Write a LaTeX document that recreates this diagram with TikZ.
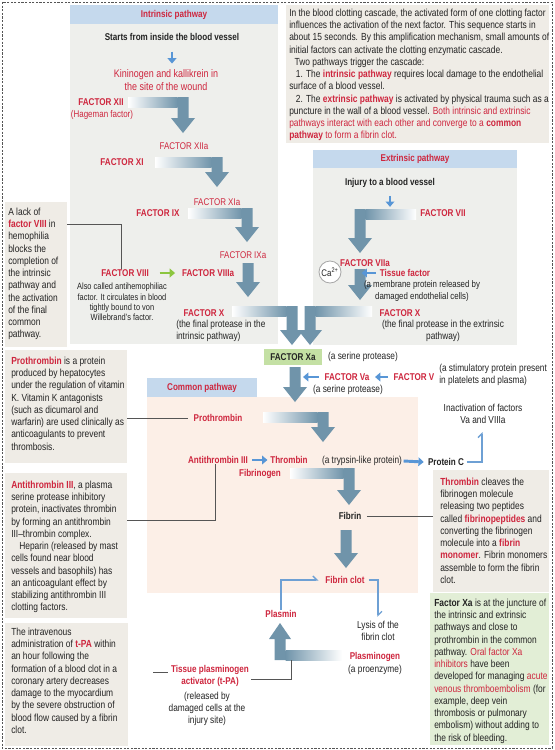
\documentclass[tikz,border=0pt]{standalone}
\usepackage{fontspec}
\setmainfont{Liberation Sans}[FakeStretch=0.82]
\usetikzlibrary{arrows.meta,fit,calc}
\definecolor{cred}{RGB}{206,38,62}
\definecolor{ctext}{RGB}{35,35,35}
\definecolor{hdrblue}{RGB}{197,217,237}
\definecolor{panelgray}{RGB}{238,239,236}
\definecolor{beige}{RGB}{239,236,230}
\definecolor{peach}{RGB}{252,239,231}
\definecolor{xagreen}{RGB}{196,224,164}
\definecolor{boxgreen}{RGB}{226,238,214}
\definecolor{arrowc}{RGB}{112,148,170}
\definecolor{sblue}{RGB}{88,150,214}
\definecolor{lblue}{RGB}{110,160,212}
\definecolor{sgreen}{RGB}{140,198,63}
\definecolor{lgray}{RGB}{85,85,85}
\newcommand\rb[1]{\textcolor{cred}{\textbf{#1}}}
\newcommand\rr[1]{\textcolor{cred}{#1}}
\newcommand\BArrowL[4]{%
  \shade[left color=white, right color=arrowc] (#1,#3-5) rectangle (#2-5.5,#3+5);
  \fill[arrowc] (#2-5.5,#3-5) -- (#2+5.5,#3-5) -- (#2+5.5,#4-15) -- (#2+12,#4-15) -- (#2,#4) -- (#2-12,#4-15) -- (#2-5.5,#4-15) -- cycle;}
\newcommand\BArrowR[4]{%
  \shade[left color=arrowc, right color=white] (#2+5.5,#3-5) rectangle (#1,#3+5);
  \fill[arrowc] (#2-5.5,#3-5) -- (#2+5.5,#3-5) -- (#2+5.5,#4-15) -- (#2+12,#4-15) -- (#2,#4) -- (#2-12,#4-15) -- (#2-5.5,#4-15) -- cycle;}
\newcommand\BArrowUp[4]{%
  \shade[left color=arrowc, right color=white] (#2+5.5,#3-5) rectangle (#1,#3+5);
  \fill[arrowc] (#2-5.5,#3+5) -- (#2+5.5,#3+5) -- (#2+5.5,#4+16) -- (#2+11,#4+16) -- (#2,#4) -- (#2-11,#4+16) -- (#2-5.5,#4+16) -- cycle;}
\newcommand\VArrow[3]{%
  \fill[arrowc] (#1-5.5,#2) -- (#1+5.5,#2) -- (#1+5.5,#3-15) -- (#1+12,#3-15) -- (#1,#3) -- (#1-12,#3-15) -- (#1-5.5,#3-15) -- cycle;}
\begin{document}
\begin{tikzpicture}[x=0.75pt,y=-0.75pt,
  bg/.style={inner sep=0, outer sep=0, draw=none},
  body/.style={font=\fontsize{7.7}{9.2}\selectfont, text=ctext, inner sep=0, align=left, anchor=north west},
  note/.style={font=\fontsize{7.6}{9.2}\selectfont, text=ctext, inner sep=0, align=center},
  small/.style={font=\fontsize{6.8}{7.8}\selectfont, text=ctext, inner sep=0, align=center},
  lab/.style={font=\bfseries\fontsize{7.4}{9}\selectfont, text=cred, inner sep=0, align=center},
  labk/.style={lab, text=ctext},
  labr/.style={font=\fontsize{7.3}{9.2}\selectfont, text=cred, inner sep=0, align=center},
  thin/.style={draw=lgray, line width=0.6pt},
  lbline/.style={draw=lblue, line width=1pt},
  sarrow/.style={draw=sblue, line width=2.2pt, -{Triangle[width=6.5pt,length=4pt]}},
  garrow/.style={draw=sgreen, line width=2.2pt, -{Triangle[width=6.5pt,length=4pt]}}]
\useasboundingbox (0,0) rectangle (554,750);
\fill[white] (0,0) rectangle (554,750);
% panels and boxes
\node[bg, fit={(70,24) (278,344)}, fill=panelgray] (panI) {};
\node[bg, fit={(70,5) (278,24)}, fill=hdrblue] (hdrI) {};
\node[bg, fit={(313,168) (517,345)}, fill=panelgray] (panE) {};
\node[bg, fit={(313,150) (517,168)}, fill=hdrblue] (hdrE) {};
\node[bg, fit={(147,397) (418,593)}, fill=peach] (panC) {};
\node[bg, fit={(147,378) (257,397)}, fill=hdrblue] (hdrC) {};
\node[bg, fit={(286,5) (549,143)}, fill=beige] (introbox) {};
\node[bg, fit={(5,202) (67,347)}, fill=beige] (lackbox) {};
\node[bg, fit={(5,350) (127,463)}, fill=beige] (probox) {};
\node[bg, fit={(5,473) (127,618)}, fill=beige] (antibox) {};
\node[bg, fit={(5,623) (128,746)}, fill=beige] (tpabox) {};
\node[bg, fit={(433,470) (549,592)}, fill=beige] (thrbox) {};
\node[bg, fit={(430,593) (549,745)}, fill=boxgreen] (xabox) {};
\draw[lgray, line width=0.5pt, dash pattern=on 1.6pt off 1.1pt] (2,2) rectangle (552,748);
% headers
\node[lab] (tI) at (hdrI) {Intrinsic pathway};
\node[lab] (tE) at (hdrE) {Extrinsic pathway};
\node[lab] (tC) at (hdrC) {Common pathway};
% big arrows
\BArrowL{128}{183}{102}{133}
\BArrowL{155}{217}{162}{187}
\BArrowL{188}{247}{213}{242}
\VArrow{248}{263}{297}
\BArrowL{232}{292}{311}{345}
\BArrowR{372}{310}{311}{345}
\BArrowR{416}{360}{214}{253}
\VArrow{360}{269}{300}
\VArrow{295}{367}{402}
\BArrowL{263}{323}{417}{442}
\BArrowL{290}{349}{473}{505}
\VArrow{346}{530}{568}
\BArrowUp{342}{280}{655}{623}
% intro text
\node[body] (intro) at (289,8.5) {In the blood clotting cascade, the activated form of one clotting factor\\
influences the activation of the next factor. This sequence starts in\\
about 15 seconds. By this amplification mechanism, small amounts of\\
initial factors can activate the clotting enzymatic cascade.\\
\hspace*{4pt}Two pathways trigger the cascade:\\
\hspace*{5pt}1. The \rb{intrinsic pathway} requires local damage to the endothelial\\
surface of a blood vessel.\\
\hspace*{5pt}2. The \rb{extrinsic pathway} is activated by physical trauma such as a\\
puncture in the wall of a blood vessel. \rr{Both intrinsic and extrinsic}\\
\rr{pathways interact with each other and converge to a} \rb{common}\\
\rb{pathway} \rr{to form a fibrin clot.}};
% side texts
\node[body] (lacktxt) at (8,207.5) {A lack of\\ \rb{factor VIII} in\\ hemophilia\\ blocks the\\ completion of\\ the intrinsic\\ pathway and\\ the activation\\ of the final\\ common\\ pathway.};
\node[body] (protxt) at (11,356.5) {\rb{Prothrombin} is a protein\\ produced by hepatocytes\\ under the regulation of vitamin\\ K. Vitamin K antagonists\\ (such as dicumarol and\\ warfarin) are used clinically as\\ anticoagulants to prevent\\ thrombosis.};
\node[body] (antitxt) at (11,480.5) {\rb{Antithrombin III}, a plasma\\ serine protease inhibitory\\ protein, inactivates thrombin\\ by forming an antithrombin\\ III--thrombin complex.\\ \hspace*{6pt}Heparin (released by mast\\ cells found near blood\\ vessels and basophils) has\\ an anticoagulant effect by\\ stabilizing antithrombin III\\ clotting factors.};
\node[body] (tpatxt) at (11,627.5) {The intravenous\\ administration of \rb{t-PA} within\\ an hour following the\\ formation of a blood clot in a\\ coronary artery decreases\\ damage to the myocardium\\ by the severe obstruction of\\ blood flow caused by a fibrin\\ clot.};
\node[body] (thrtxt) at (440,477.5) {\rb{Thrombin} cleaves the\\ fibrinogen molecule\\ releasing two peptides\\ called \rb{fibrinopeptides} and\\ converting the fibrinogen\\ molecule into a \rb{fibrin}\\ \rb{monomer}. Fibrin monomers\\ assemble to form the fibrin\\ clot.};
\node[body] (xatxt) at (434,598.5) {\textbf{Factor Xa} is at the juncture of\\ the intrinsic and extrinsic\\ pathways and close to\\ prothrombin in the common\\ pathway. \rr{Oral factor Xa}\\ \rr{inhibitors} have been\\ developed for managing \rr{acute}\\ \rr{venous thromboembolism} (for\\ example, deep vein\\ thrombosis or pulmonary\\ embolism) without adding to\\ the risk of bleeding.};
% intrinsic pathway
\node[labk] (starts) at (172,37) {Starts from inside the blood vessel};
\node[labr, font=\fontsize{8.2}{9.2}\selectfont] (kinin) at (166,80) {Kininogen and kallikrein in\\ the site of the wound};
\node[lab] (f12) at (101,102) {FACTOR XII};
\node[labr] (hag) at (102,115) {(Hageman factor)};
\node[labr] (f12a) at (184,146) {FACTOR XIIa};
\node[lab] (f11) at (122,162) {FACTOR XI};
\node[labr] (f11a) at (217,202) {FACTOR XIa};
\node[lab] (f9) at (158,213) {FACTOR IX};
\node[labr] (f9a) at (243,255) {FACTOR IXa};
\node[lab] (f8) at (125,273) {FACTOR VIII};
\node[lab] (f8a) at (208,273) {FACTOR VIIIa};
\node[small] (note8) at (122,302) {Also called antihemophiliac\\ factor. It circulates in blood\\ tightly bound to von\\ Willebrand's factor.};
\node[lab] (f10i) at (204,313) {FACTOR X};
\node[note, align=left, anchor=west] (f10idesc) at (176,331) {(the final protease in the\\ intrinsic pathway)};
% extrinsic pathway
\node[labk] (injury) at (390,183) {Injury to a blood vessel};
\node[lab] (f7) at (443,213) {FACTOR VII};
\node[lab] (f7a) at (365,263) {FACTOR VIIa};
\node[circle, draw=gray!70, fill=white, line width=0.6pt, minimum size=16.5pt, inner sep=0, font=\fontsize{7.2}{8}\selectfont, text=ctext] (ca) at (330,272) {Ca\textsuperscript{2+}};
\node[lab] (tissue) at (405,273) {Tissue factor};
\node[note, font=\fontsize{7.2}{9.2}\selectfont] (tissuedesc) at (422,291) {(a membrane protein released by\\ damaged endothelial cells)};
\node[lab] (f10e) at (400,313) {FACTOR X};
\node[note] (f10edesc) at (443,331) {(the final protease in the extrinsic\\ pathway)};
% common
\node[fill=xagreen, minimum width=43pt, minimum height=11.5pt, inner sep=0, font=\bfseries\fontsize{7.4}{9}\selectfont, text=ctext] (xa) at (293,357) {FACTOR Xa};
\node[note] (serine1) at (363,357) {(a serine protease)};
\node[lab] (f5a) at (347,377) {FACTOR Va};
\node[note] (serine2) at (348,390) {(a serine protease)};
\node[lab] (f5) at (414,377) {FACTOR V};
\node[note, align=left, anchor=west] (stim) at (439,375) {(a stimulatory protein present\\ in platelets and plasma)};
\node[lab] (prothr) at (218,418) {Prothrombin};
\node[note] (inact) at (483,414) {Inactivation of factors\\ Va and VIIIa};
\node[lab] (anti) at (218,460) {Antithrombin III};
\node[lab] (thromb) at (289,460) {Thrombin};
\node[note] (tryp) at (362,461) {(a trypsin-like protein)};
\node[labk] (protc) at (446,462) {Protein C};
\node[lab] (fibrinogen) at (260,474) {Fibrinogen};
\node[labk] (fibrin) at (350,516) {Fibrin};
\node[lab] (clot) at (345,580) {Fibrin clot};
\node[lab] (plasmin) at (281,614) {Plasmin};
\node[note] (lysis) at (378,631) {Lysis of the\\ fibrin clot};
\node[lab] (plg) at (375,657) {Plasminogen};
\node[note] (proenz) at (375,670) {(a proenzyme)};
\node[lab] (tpa) at (210,676) {Tissue plasminogen\\ activator (t-PA)};
\node[note] (released) at (207,709) {(released by\\ damaged cells at the\\ injury site)};
% small arrows
\draw[sarrow] ([yshift=-8pt]starts.south) -- ++(0,12);
\draw[sarrow] ([yshift=-6pt]injury.south) -- ++(0,11);
\draw[garrow] ([xshift=8pt]f8.east) -- ([xshift=-5pt]f8a.west);
\draw[sarrow] ([xshift=-3pt]tissue.west) -- ++(-14,0);
\draw[sarrow] ([xshift=-4pt]f5a.west) -- ++(-16,0);
\draw[sarrow] ([xshift=-4pt]f5.west) -- ([xshift=4pt]f5a.east);
\draw[sarrow] ([xshift=3pt]anti.east) -- ([xshift=-2pt]thromb.west);
\draw[sarrow] ([xshift=1pt]tryp.east) -- ([xshift=-3pt]protc.west);
% thin connectors
\draw[thin] (lackbox.east |- 0,224) -| ([xshift=-3pt]f8.north);
\draw[thin] (probox.east |- prothr.west) -- ([xshift=-4pt]prothr.west);
\draw[thin] (antibox.east |- 0,520) -| ([xshift=-2pt]anti.south);
\draw[thin] ([xshift=4pt]fibrin.east) -- (thrbox.west |- fibrin.east);
\coordinate (tpaleft) at ($(tpa.west)+(-3,-4)$);
\draw[thin] (tpaleft) -- ++(-15,0);
\coordinate (tpaarrow) at (291,660);
\draw[thin] ($(tpa.east)+(2,3)$) -| (tpaarrow);
% light blue connectors
\coordinate (inactpt) at (482,432);
\draw[lbline, -{Straight Barb[left,length=3pt,width=6pt]}] ([xshift=2pt]protc.east) -| (inactpt);
\draw[lbline, -{Straight Barb[left,length=3pt,width=6pt]}] (plasmin.north) |- ([xshift=-5pt]clot.west);
\draw[lbline, -{Straight Barb[left,length=3pt,width=6pt]}] ([xshift=3pt]clot.east) -| ([yshift=3pt]lysis.north);
\end{tikzpicture}
\end{document}
